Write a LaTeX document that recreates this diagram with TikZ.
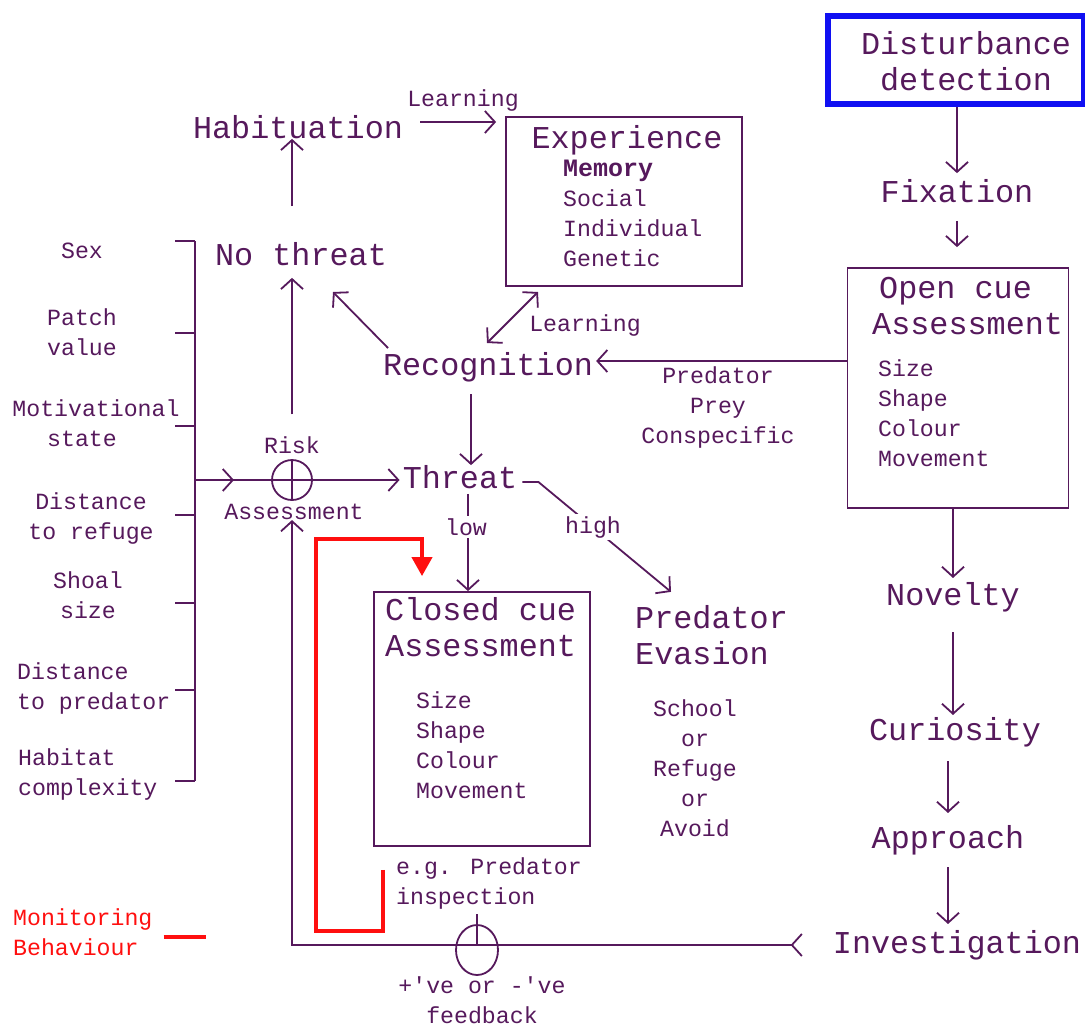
\documentclass[tikz,border=0pt]{standalone}
\usepackage{fontspec}
\setmainfont{Liberation Mono}
\usetikzlibrary{arrows.meta,positioning,shapes.geometric}

\definecolor{ink}{HTML}{56195C}
\definecolor{monitor}{HTML}{FF0F0F}
\definecolor{detect}{HTML}{1010F2}

\tikzset{
  big/.style={font=\fontsize{31.8}{36.5}\selectfont, text=ink, inner sep=0pt},
  small/.style={font=\fontsize{23.2}{30}\selectfont, text=ink, inner sep=0pt},
  wire/.style={draw=ink, line width=1.8pt},
  flow/.style={wire, -{Straight Barb[length=10pt,width=22pt]}},
  frame/.style={draw=ink, line width=1.8pt, inner sep=0pt},
  summer/.style={draw=ink, line width=1.8pt, inner sep=0pt},
  monline/.style={draw=monitor, line width=4pt},
  gap/.style={fill=white, inner sep=2pt},
}

\begin{document}
\begin{tikzpicture}[x=1pt, y=-1pt]
    \useasboundingbox (0,0) rectangle (1085,1026);

    % Detection chain on the right
    \node[draw=detect, line width=6pt, minimum width=256, minimum height=88, inner sep=0pt] (distbox) at (956,60) {};
    \node[big, align=center] (dist) at (966,61) {Disturbance\\detection};
    \node[big] (fix) at (957,191) {Fixation};
    \node[frame, minimum width=221, minimum height=240] (open) at (958,388) {};
    \node[big, align=left, anchor=west] (opentitle) at (872,306) {\hspace*{7pt}Open cue\\Assessment};
    \node[small, align=left, anchor=west] (opencues) at (878,413) {Size\\Shape\\Colour\\Movement};
    \node[big] (novelty) at (953,597) {Novelty};
    \node[big] (curio) at (955,732) {Curiosity};
    \node[big] (approach) at (948,840) {Approach};
    \node[big] (invest) at (957,945) {Investigation};

    \draw[flow, shorten >=6pt] (distbox.south -| fix) -- (fix);
    \draw[flow, shorten <=18pt, shorten >=20pt] (fix) -- (fix |- open.north);
    \draw[flow, shorten >=4pt] (open.south -| novelty) -- (novelty);
    \draw[flow, shorten <=20pt, shorten >=2pt] (novelty) -- (novelty |- curio.north);
    \draw[flow, shorten <=14pt, shorten >=12pt] (curio.south -| approach) -- (approach.north);
    \draw[flow, shorten <=12pt, shorten >=6pt] (approach) -- (approach |- invest.north);

    % Factors feeding risk assessment
    \node[small, align=center] (sex) at (82,251) {Sex};
    \node[small, align=center] (patch) at (82,332) {Patch\\value};
    \node[small, align=center] (motiv) at (96,423) {Motivational\\state\hspace*{28pt}};
    \node[small, align=center] (refuge) at (91,518) {Distance\\to refuge};
    \node[small, align=center] (shoal) at (88,595) {Shoal\\size};
    \node[small, align=left, anchor=west] (preddist) at (17,688) {Distance\\to predator};
    \node[small, align=left, anchor=west] (habitat) at (18,774) {Habitat\\complexity};

    \foreach \y in {241,333,426,515,603,690,781}
        \draw[wire] (175,\y) -- (195,\y);
    \draw[wire] (195,241) -- (195,781);
    \coordinate (merge) at (195,480);

    % Risk assessment
    \node[circle, summer, minimum size=40pt] (risk) at (292,480) {};
    \draw[wire] (risk.north) -- (risk.south);
    \draw[wire] (risk.west) -- (risk.east);
    \node[small] (risklbl) at (292,445) {Risk};
    \node[small] (asslbl) at (294,512) {Assessment};
    \draw[wire] (merge) -- (risk.west);
    \draw[flow] (merge) -- ++(39,0);

    \node[big] (threat) at (460,477) {Threat};
    \node[big] (nothreat) at (301,254) {No threat};
    \node[big] (habit) at (298,127) {Habituation};
    \node[small] (learn1) at (463,100) {Learning};

    \draw[flow, shorten >=3pt] (risk.east) -- (risk.east -| threat.west);
    \draw[flow, shorten <=22pt, shorten >=12pt] (risklbl.north -| risk) -- (risk |- nothreat.south);
    \draw[flow, shorten <=36pt] (nothreat.north -| risk) -- (risk |- habit.south);

    % Experience
    \node[frame, minimum width=236, minimum height=169] (exp) at (624,201.5) {};
    \node[big] (exptitle) at (627,140) {Experience};
    \node[small, align=left, anchor=west] (expitems) at (563,213) {{\fontsize{25}{30}\selectfont\bfseries Memory}\\Social\\Individual\\Genetic};
    \coordinate (habline) at ([yshift=5pt]habit.east);
    \draw[flow, shorten <=17pt, shorten >=9pt] (habline) -- (habline -| exp.west);

    % Recognition
    \node[big] (recog) at (488,367) {Recognition};
    \node[small] (learn2) at (585,325) {Learning};
    \node[small, align=center] (cuetypes) at (718,407) {Predator\\Prey\\Conspecific};
    \coordinate (cueline) at ([yshift=6pt]recog.east);
    \draw[flow, shorten >=3pt] (open.west |- cueline) -- (cueline);
    \draw[flow] ([shift={(-100,-19)}]recog.center) -- ([shift={(32,38)}]nothreat.center);
    \draw[wire, {Straight Barb[length=10pt,width=22pt]}-{Straight Barb[length=10pt,width=22pt]}] ([shift={(-1,-24)}]recog.center) -- ([shift={(-86,90.5)}]exp.center);
    \coordinate (recline) at ([xshift=-17pt]recog.south);
    \draw[flow, shorten <=12pt] (recline) -- (recline |- threat.north);

    % Closed cue assessment and evasion
    \node[frame, minimum width=216, minimum height=254] (closed) at (482,719) {};
    \node[big, align=left, anchor=west] (closedtitle) at (385,627) {Closed cue\\Assessment};
    \node[small, align=left, anchor=west] (closedcues) at (416,745) {Size\\Shape\\Colour\\Movement};
    \node[big, align=left, anchor=west] (evasion) at (635,635) {Predator\\Evasion};
    \node[small, align=center] (escape) at (695,768) {School\\or\\Refuge\\or\\Avoid};

    \coordinate (lowtip) at ([xshift=-14pt]closed.north);
    \draw[flow, shorten <=5pt] (lowtip |- threat.south) -- (lowtip);
    \node[small, gap] (low) at (466,527) {low};
    \coordinate (bend) at ([shift={(21,5)}]threat.east);
    \coordinate (hightip) at ([shift={(36,-13)}]evasion.north west);
    \draw[flow] ([shift={(5,5)}]threat.east) -- (bend) -- (hightip);
    \node[small, gap] (high) at (593,527) {high};

    % Feedback loop
    \node[small, align=left, anchor=west] (inspect) at (396,883) {e.g. Predator\\inspection};
    \node[ellipse, summer, minimum width=42pt, minimum height=50pt] (fb) at (477,950) {};
    \coordinate (fbline) at ([xshift=-30pt]invest.west);
    \draw[wire] ([yshift=10pt]fb.north) -- (fb.center |- fbline);
    \draw[wire, {Straight Barb[length=10pt,width=22pt,reversed]}-{Straight Barb[length=10pt,width=22pt]}] (fbline) -- (fbline -| risk) -- (risk |- asslbl.south);
    \node[small, align=center] (fbnote) at (482,1000) {+\textquotesingle ve or -\textquotesingle ve\\feedback};

    % Monitoring behaviour
    \coordinate (monstart) at ([shift={(-13,13)}]inspect.north west);
    \coordinate (montip) at ([shift={(-60,-15)}]closed.north);
    \draw[monline, -{Triangle[length=19pt,width=20pt]}] (monstart) -- ++(0,61) -- ++(-67,0) -- ++(0,-392) -| (montip);
    \node[small, text=monitor, align=left, anchor=west] (legend) at (13,932) {Monitoring\\Behaviour};
    \draw[monline] ([shift={(11,5)}]legend.east) -- ++(42,0);

\end{tikzpicture}
\end{document}
